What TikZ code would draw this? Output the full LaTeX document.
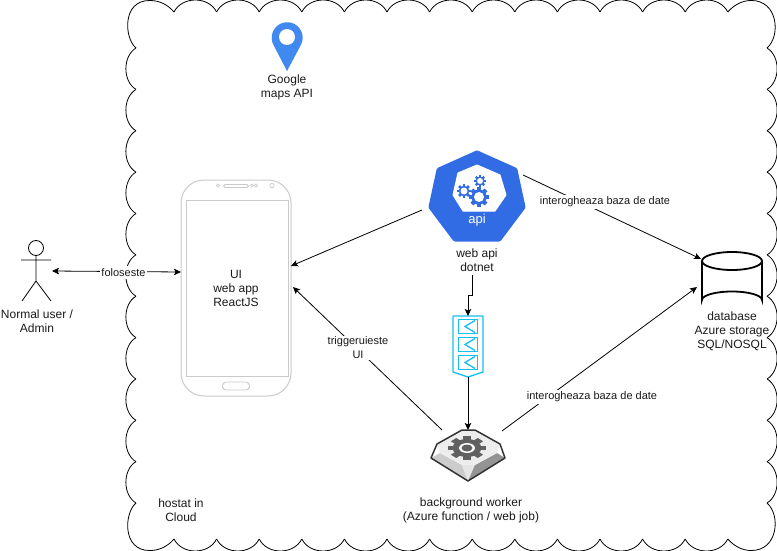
\documentclass[tikz,border=0pt]{standalone}
\usepackage{fontspec}
\setmainfont{Liberation Sans}
\usetikzlibrary{arrows.meta, positioning}
\definecolor{apiblue}{HTML}{326CE5}
\definecolor{pinblue}{HTML}{4089F0}
\definecolor{queuecyan}{HTML}{17BEF0}
\definecolor{phonegray}{HTML}{CACACA}
\definecolor{textgray}{HTML}{1A1A1A}
\newcommand{\gearicon}[5]{%
  \begin{scope}[shift={(#1)},yscale=#4]
    \foreach \a in {0,45,...,315}
      \fill[#3,rotate=\a] (-.2*#2,0) rectangle (.2*#2,#2);
    \fill[#3] (0,0) circle (.76*#2);
    \fill[white] (0,0) circle (#5*#2);
  \end{scope}}
\begin{document}
\begin{tikzpicture}[
  x=1pt, y=-1pt,
  txt/.style={font=\fontsize{12}{14}\selectfont, text=textgray, align=center, inner sep=0pt},
  edgelabel/.style={font=\fontsize{11}{14}\selectfont, text=textgray, align=center, fill=white, inner sep=1pt, minimum height=13.5pt},
  edge/.style={-{Stealth[length=7pt,width=6.5pt,inset=1.5pt]}, black, line width=.8pt},
  cloudline/.style={black, line width=.8pt},
  queueline/.style={queuecyan, line width=1.3pt}
]
\useasboundingbox (0,0) rectangle (777,551);

% cloud
\foreach \x in {174,216.6,259.2,301.8,344.4,387,429.6,472.2,514.8,557.4,600,642.6,685.2} {
  \draw[cloudline] (\x,12) .. controls (\x+8,-4) and (\x+34.6,-4) .. (\x+42.6,12);
  \draw[cloudline] (\x,539) .. controls (\x+8,555) and (\x+34.6,555) .. (\x+42.6,539);
}
\foreach \y in {48,89.4,130.7,172.1,213.5,254.8,296.2,337.6,378.9,420.3,461.6} {
  \draw[cloudline] (136,\y) .. controls (122.5,\y+8) and (122.5,\y+33.4) .. (136,\y+41.4);
  \draw[cloudline] (767,\y) .. controls (780.5,\y+8) and (780.5,\y+33.4) .. (767,\y+41.4);
}
\draw[cloudline] (136,48) .. controls (124,38) and (122,0) .. (150,.5) .. controls (160,.5) and (168,5) .. (174,12);
\draw[cloudline] (136,503) .. controls (124,513) and (122,551) .. (150,550.5) .. controls (160,550.5) and (168,546) .. (174,539);
\draw[cloudline] (727.8,12) .. controls (734,5) and (742,.5) .. (751,.5) .. controls (778,0) and (781,36) .. (767,48);
\draw[cloudline] (727.8,539) .. controls (734,546) and (742,550.5) .. (751,550.5) .. controls (778,551) and (781,515) .. (767,503);
\node[txt] (cloudlabel) at (181,510) {hostat in\\Cloud};

% google pin
\fill[pinblue] (287,71) -- (273.5,45) arc[start angle=152, end angle=388, radius=15.5] -- cycle;
\fill[white] (287,37) circle (8);
\node[txt] (pinlabel) at (287,87) {Google\\maps API};

% user
\node[draw, circle, minimum size=15pt, inner sep=0pt, line width=.8pt] (head) at (36,248) {};
\coordinate (hip) at (36,281);
\coordinate (armL) at (21,260);
\coordinate (armR) at (51,260);
\coordinate (legL) at (22,301);
\coordinate (legR) at (51,301);
\draw[line width=.8pt] (head.south) -- (hip) (armL) -- (armR) (legL) -- (hip) -- (legR);
\node[txt] (userlabel) at (37,321) {Normal user /\\Admin};

% phone
\node[draw=phonegray, line width=1pt, rounded corners=23pt, minimum width=110pt, minimum height=216pt, inner sep=0pt] (phone) at (236,288) {};
\node[draw=phonegray, line width=1pt, minimum width=102pt, minimum height=176pt, inner sep=0pt] (screen) at (237,288) {};
\node[txt] at (phone.center) {UI\\web app\\ReactJS};
\node[draw=phonegray, line width=.8pt, rounded corners=1.5pt, minimum width=25pt, minimum height=3pt, inner sep=0pt] (speaker) at (236,186) {};
\foreach \x/\r in {218/1.6,252/1.6,256/1.6,272/2.2}
  \draw[phonegray, line width=.7pt] (\x,185.5) circle (\r);
\node[draw=phonegray, line width=.9pt, rounded corners=3.5pt, minimum width=27pt, minimum height=8pt, inner sep=0pt] (homebtn) at (236,386) {};

% web api
\fill[apiblue, draw=apiblue, line width=5pt, line join=round] (477,153) -- (515,170) -- (523,207) -- (499,239) -- (455,239) -- (431,207) -- (439,170) -- cycle;
\fill[white, draw=white, line width=1pt, line join=round] (477,165) -- (500,175) -- (506,195) -- (495,211) -- (463,211) -- (453,195) -- (458,173) -- cycle;
\gearicon{464,191}{7}{apiblue}{1}{.5}
\gearicon{480,181}{6}{apiblue}{1}{.5}
\gearicon{479,197}{10}{apiblue}{1}{.5}
\node[font=\fontsize{13}{14}\selectfont, text=white, inner sep=0pt] (api) at (477,220) {api};
\node[txt] (apilabel) at (477,260) {web api\\dotnet};

% queue
\draw[queueline, line join=round] (453,316) -- (483,316) -- (483,372) -- (468,377) -- (453,372) -- cycle;
\foreach \y in {326.5,344.5,362.5} {
  \draw[queueline] (458.5,\y-7) rectangle (477.5,\y+7);
  \draw[queueline] (475,\y-6) -- (465,\y) -- (475,\y+6);
}
\coordinate (queuetop) at (468,316);
\coordinate (queuebot) at (468,377);

% worker
\fill[black!20] (431,458) -- (440,453) -- (462,465) -- (468,481) -- cycle;
\fill[black!10] (462,465) -- (475,465) -- (468,481) -- cycle;
\fill[black!42] (505,458) -- (497,453) -- (475,465) -- (468,481) -- cycle;
\fill[black!7] (437,444) -- (462,430) -- (475,430) -- (500,444) -- (497,453) -- (475,465) -- (462,465) -- (440,453) -- cycle;
\draw[black!80, line width=1.5pt, line join=round] (431,458) -- (437,444) -- (462,430) -- (475,430) -- (500,444) -- (505,458) -- (468,481) -- cycle;
\gearicon{467,448}{19}{black!62}{.62}{.42}
\fill[black!62] (467,448) ellipse (5.5 and 3.5);
\coordinate (workertop) at (468,430);
\node[txt] (workerlabel) at (471,510) {background worker\\(Azure function / web job)};

% database
\draw[line width=1.8pt, fill=white] (702,261) -- (702,300) arc[start angle=180, end angle=360, x radius=30, y radius=8.5] -- (762,261);
\draw[line width=1.8pt, fill=white] (732,261) ellipse (30 and 9);
\node[txt] (dblabel) at (732,331) {database\\Azure storage\\SQL/NOSQL};

% connectors
\coordinate (apiL) at (422,210);
\coordinate (apiR) at (523,175);
\coordinate (apiB) at (472,275);
\coordinate (phoneA) at (291,266);
\coordinate (phoneB) at (293,287);
\coordinate (dbA) at (701,259);
\coordinate (dbB) at (697,287);
\coordinate (workerL) at (442,430);
\coordinate (workerR) at (502,431);
\coordinate (userR) at (52,271);
\coordinate (phoneL) at (181,272);
\draw[edge, {Stealth[length=7pt,width=6.5pt,inset=1.5pt]}-{Stealth[length=7pt,width=6.5pt,inset=1.5pt]}] (userR) -- (phoneL);
\draw[edge] (apiL) -- (phoneA);
\draw[edge] (apiR) -- (dbA);
\draw[edge] (apiB) -- (472,295) -- (468,295) -- (queuetop);
\draw[edge] (queuebot) -- (workertop);
\draw[edge] (workerL) -- (phoneB);
\draw[edge] (workerR) -- (dbB);
\node[edgelabel] (uselabel) at (123.5,272.5) {foloseste};
\node[edgelabel] (readlabel) at (605,202) {interogheaza baza de date};
\node[edgelabel] (triggerlabel) at (358,348) {triggeruieste\\UI};
\node[edgelabel] (writelabel) at (592,397) {interogheaza baza de date};
\end{tikzpicture}
\end{document}
